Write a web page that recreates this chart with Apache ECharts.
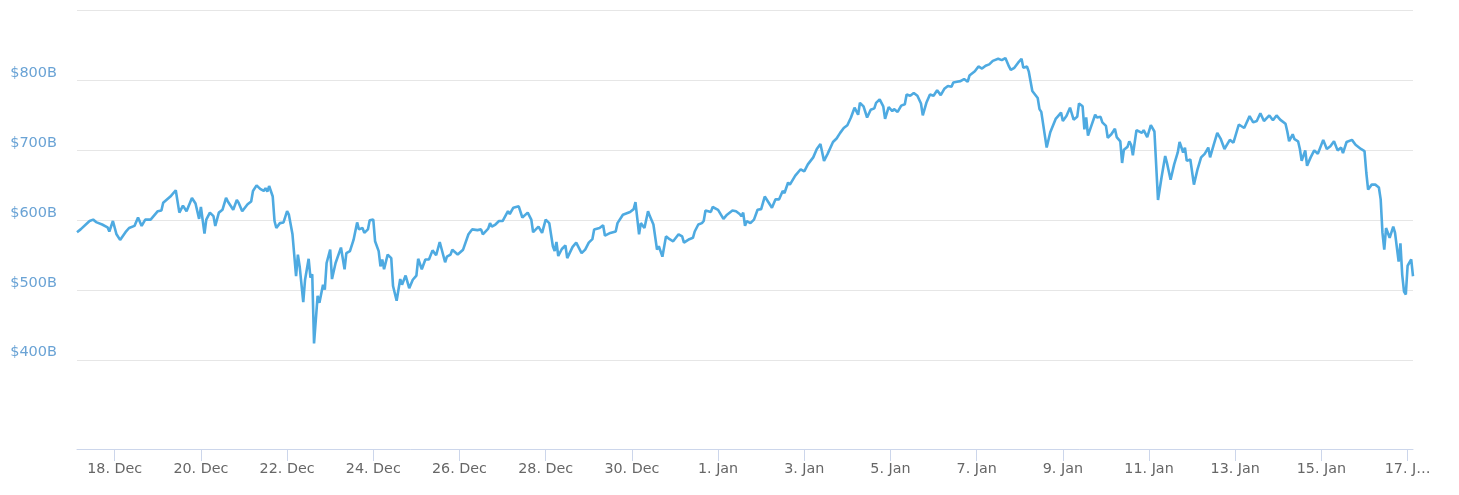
<!DOCTYPE html>
<html>
<head>
<meta charset="utf-8">
<script src="https://cdn.jsdelivr.net/npm/echarts@6/dist/echarts.min.js"></script>
<style>
html,body{margin:0;padding:0;background:#fff;}
#chart{width:1459px;height:495px;}
</style>
</head>
<body>
<div id="chart"></div>
<script>
// hours since 17 Dec 00:00
const hours = [3,5,10,12,14,17,20,21,23,25,27,30,32,35,37,39,41,44,48,50,51,55,58,60,62,64,67,69,71,72,74,75,77,79,80,82,84,86,87,90,92,93,95,98,100,101,103,105,107,108,109,110,112,113,114,116,118,120,121,123,125,126,127,129,130,132,133,134,135,137,138,140,141,142,144,145,147,150,152,153,155,157,159,160,162,163,165,166,168,169,171,172,173,174,176,178,179,181,183,184,186,188,190,192,193,195,197,199,201,203,205,208,209,211,212,215,218,219,221,223,226,228,229,232,233,234,236,238,240,243,244,246,249,251,254,256,257,260,262,264,266,267,268,269,270,271,273,275,276,279,281,284,286,288,290,291,294,296,297,300,303,304,307,308,311,313,314,316,317,319,321,322,324,326,327,329,331,333,335,338,340,341,344,346,347,349,351,352,353,356,357,360,363,365,368,370,372,373,374,375,376,378,380,382,384,386,387,390,392,394,396,397,399,400,403,404,406,408,410,413,415,417,419,421,424,426,428,430,432,434,436,438,439,441,443,445,447,448,450,452,453,455,457,458,460,462,464,465,467,469,471,473,474,476,478,480,482,484,486,488,490,491,493,495,497,499,500,503,505,507,509,511,513,516,518,520,522,523,525,527,529,530,532,533,535,536,538,539,540,541,543,545,546,548,549,551,552,554,556,558,560,561,563,564,565,566,568,570,571,573,574,576,577,579,581,582,584,585,586,588,589,590,591,593,594,596,597,599,601,603,605,607,609,610,612,614,616,617,619,620,621,623,625,627,629,631,633,634,636,638,640,642,643,645,647,650,653,656,658,660,662,664,667,669,671,673,676,677,678,680,681,683,684,685,687,688,690,692,694,697,699,701,703,705,707,708,710,713,715,718,720,721,722,724,726,728,729,730,731,732,734,736,737,739,740,741,742,743,744,746,747];
// market cap, billions USD
const capBillions = [583,587,599,601,597,594,590,584,599,580,572,583,589,592,604,592,601,601,613,614,625,634,643,611,621,613,632,624,602,619,581,601,611,606,592,611,615,632,627,615,629,625,613,623,627,642,650,645,642,646,641,649,634,599,589,596,597,613,608,580,520,551,534,483,515,545,518,523,424,492,482,508,501,539,558,516,539,561,530,553,556,572,597,587,589,582,587,600,601,570,556,534,544,530,551,546,506,485,516,508,521,503,515,521,545,530,544,544,557,550,569,540,548,551,558,551,558,558,580,587,586,587,580,588,596,591,594,599,599,613,609,618,620,604,611,601,583,591,582,601,596,596,563,556,569,549,559,564,546,562,568,553,558,568,573,587,589,593,578,582,584,596,608,606,612,616,626,580,596,589,613,606,594,558,563,548,577,573,570,580,577,568,573,575,584,594,596,599,614,612,619,615,602,608,614,613,609,606,611,592,599,596,601,615,616,634,634,618,630,630,642,639,654,651,664,662,673,670,680,690,702,709,685,695,712,717,725,732,736,747,761,751,768,763,747,758,760,768,773,763,745,762,756,759,755,764,766,780,778,782,778,767,750,768,780,778,786,779,788,792,791,797,798,799,802,798,807,813,820,817,821,823,828,831,829,832,820,815,818,825,831,818,820,813,785,786,775,759,755,756,704,726,724,745,748,754,742,749,761,744,748,767,763,730,747,721,736,751,747,748,740,735,718,723,731,719,713,682,701,705,713,708,693,729,731,725,729,719,736,727,629,662,692,682,658,680,697,712,697,704,685,687,651,673,690,695,704,690,708,725,716,702,704,715,711,737,732,749,740,742,753,742,750,743,750,744,738,727,713,723,716,713,702,685,700,678,690,700,695,715,702,706,713,700,704,696,712,715,708,702,699,668,644,651,651,647,630,582,558,589,575,591,582,541,567,522,498,494,535,544,520];

const xTickHours = [24,72,120,168,216,264,312,360,408,456,504,552,600,648,696,744];
const xTickLabels = ['18. Dec','20. Dec','22. Dec','24. Dec','26. Dec','28. Dec','30. Dec','1. Jan','3. Jan','5. Jan','7. Jan','9. Jan','11. Jan','13. Jan','15. Jan','17. J…'];
const yGridValues = [400,500,600,700,800,900];
const yTickLabels = ['$400B','$500B','$600B','$700B','$800B',''];

const chart = echarts.init(document.getElementById('chart'), null, {renderer:'canvas'});
const seriesData = hours.map((h,i)=>[h, capBillions[i]]);

chart.setOption({
  animation:false,
  backgroundColor:'#ffffff',
  grid:{left:77, right:46, top:10.5, bottom:46, containLabel:false},
  xAxis:{
    type:'value', min:3, max:747,
    axisLine:{show:true, lineStyle:{color:'#ccd6eb', width:1}},
    axisTick:{show:true, customValues:xTickHours, length:12, lineStyle:{color:'#ccd6eb'}},
    axisLabel:{customValues:xTickHours, margin:13, color:'#666666', fontFamily:'DejaVu Sans', fontSize:14.3,
      formatter:(v)=>{const i=xTickHours.indexOf(Math.round(v)); return i>=0?xTickLabels[i]:'';}},
    splitLine:{show:false}
  },
  yAxis:{
    type:'value', min:273, max:900,
    axisLine:{show:false},
    axisTick:{show:false, customValues:yGridValues},
    axisLabel:{customValues:yGridValues, margin:20, color:'#6aa3d5', fontFamily:'DejaVu Sans', fontSize:14.5, verticalAlign:'bottom',
      formatter:(v)=>{const i=yGridValues.indexOf(Math.round(v)); return i>=0?yTickLabels[i]:'';}},
    splitLine:{show:true, lineStyle:{color:'#e6e6e6', width:1}}
  },
  series:[{
    type:'line', data:seriesData, showSymbol:false, symbol:'none',
    lineStyle:{color:'#4eaae1', width:2.6}, itemStyle:{color:'#4eaae1'}
  }]
});
</script>
</body>
</html>
